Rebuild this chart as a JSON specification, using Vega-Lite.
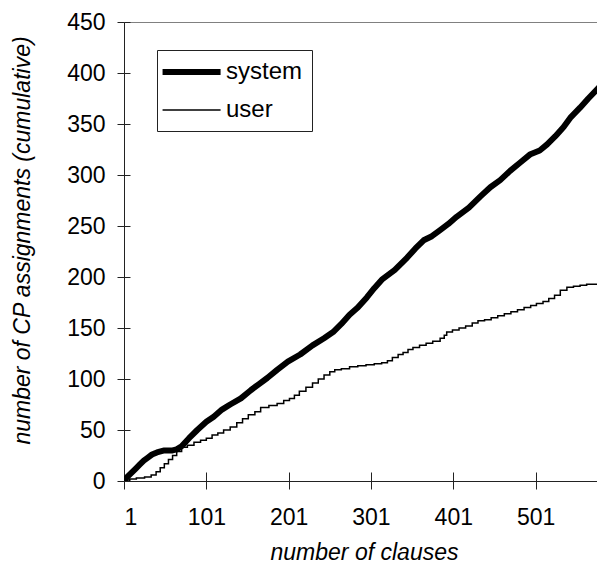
{
  "$schema": "https://vega.github.io/schema/vega-lite/v6.json",
  "width": 475,
  "height": 459,
  "autosize": "none",
  "padding": {"left": 124, "top": 22, "right": 0, "bottom": 84},
  "background": "white",
  "config": {
    "font": "Liberation Sans",
    "view": {"stroke": "#808080", "strokeWidth": 1},
    "axis": {
      "domainColor": "#222",
      "tickColor": "#222",
      "labelColor": "#000",
      "titleColor": "#000",
      "labelFont": "Liberation Sans",
      "titleFont": "Liberation Sans",
      "labelFontSize": 23,
      "titleFontSize": 23,
      "titleFontWeight": "normal",
      "titleFontStyle": "italic",
      "grid": false
    }
  },
  "datasets": {
    "curves": [
      {"clause": 1, "count": 0, "series": "system"},
      {"clause": 5, "count": 4, "series": "system"},
      {"clause": 10, "count": 8, "series": "system"},
      {"clause": 15, "count": 12, "series": "system"},
      {"clause": 20, "count": 16, "series": "system"},
      {"clause": 25, "count": 20, "series": "system"},
      {"clause": 30, "count": 23, "series": "system"},
      {"clause": 35, "count": 26, "series": "system"},
      {"clause": 41, "count": 28, "series": "system"},
      {"clause": 50, "count": 30, "series": "system"},
      {"clause": 60, "count": 30, "series": "system"},
      {"clause": 65, "count": 31, "series": "system"},
      {"clause": 71, "count": 34, "series": "system"},
      {"clause": 80, "count": 42, "series": "system"},
      {"clause": 90, "count": 50, "series": "system"},
      {"clause": 101, "count": 58, "series": "system"},
      {"clause": 110, "count": 63, "series": "system"},
      {"clause": 120, "count": 70, "series": "system"},
      {"clause": 130, "count": 75, "series": "system"},
      {"clause": 143, "count": 81, "series": "system"},
      {"clause": 155, "count": 89, "series": "system"},
      {"clause": 165, "count": 95, "series": "system"},
      {"clause": 175, "count": 101, "series": "system"},
      {"clause": 187, "count": 109, "series": "system"},
      {"clause": 200, "count": 117, "series": "system"},
      {"clause": 215, "count": 124, "series": "system"},
      {"clause": 230, "count": 133, "series": "system"},
      {"clause": 244, "count": 140, "series": "system"},
      {"clause": 255, "count": 146, "series": "system"},
      {"clause": 265, "count": 154, "series": "system"},
      {"clause": 275, "count": 163, "series": "system"},
      {"clause": 285, "count": 170, "series": "system"},
      {"clause": 296, "count": 180, "series": "system"},
      {"clause": 305, "count": 189, "series": "system"},
      {"clause": 315, "count": 198, "series": "system"},
      {"clause": 330, "count": 207, "series": "system"},
      {"clause": 345, "count": 219, "series": "system"},
      {"clause": 355, "count": 228, "series": "system"},
      {"clause": 365, "count": 236, "series": "system"},
      {"clause": 375, "count": 240, "series": "system"},
      {"clause": 385, "count": 246, "series": "system"},
      {"clause": 395, "count": 252, "series": "system"},
      {"clause": 405, "count": 259, "series": "system"},
      {"clause": 420, "count": 268, "series": "system"},
      {"clause": 434, "count": 279, "series": "system"},
      {"clause": 446, "count": 288, "series": "system"},
      {"clause": 458, "count": 295, "series": "system"},
      {"clause": 470, "count": 304, "series": "system"},
      {"clause": 482, "count": 312, "series": "system"},
      {"clause": 494, "count": 320, "series": "system"},
      {"clause": 506, "count": 324, "series": "system"},
      {"clause": 515, "count": 330, "series": "system"},
      {"clause": 525, "count": 338, "series": "system"},
      {"clause": 535, "count": 347, "series": "system"},
      {"clause": 543, "count": 356, "series": "system"},
      {"clause": 555, "count": 366, "series": "system"},
      {"clause": 565, "count": 375, "series": "system"},
      {"clause": 578, "count": 386, "series": "system"},
      {"clause": 1, "count": 0, "series": "user"},
      {"clause": 8, "count": 2, "series": "user"},
      {"clause": 16, "count": 3, "series": "user"},
      {"clause": 26, "count": 4, "series": "user"},
      {"clause": 34, "count": 6, "series": "user"},
      {"clause": 40, "count": 9, "series": "user"},
      {"clause": 45, "count": 13, "series": "user"},
      {"clause": 50, "count": 17, "series": "user"},
      {"clause": 55, "count": 21, "series": "user"},
      {"clause": 60, "count": 25, "series": "user"},
      {"clause": 65, "count": 29, "series": "user"},
      {"clause": 71, "count": 33, "series": "user"},
      {"clause": 78, "count": 35, "series": "user"},
      {"clause": 86, "count": 38, "series": "user"},
      {"clause": 94, "count": 40, "series": "user"},
      {"clause": 101, "count": 42, "series": "user"},
      {"clause": 108, "count": 45, "series": "user"},
      {"clause": 115, "count": 47, "series": "user"},
      {"clause": 122, "count": 50, "series": "user"},
      {"clause": 130, "count": 53, "series": "user"},
      {"clause": 138, "count": 57, "series": "user"},
      {"clause": 145, "count": 61, "series": "user"},
      {"clause": 152, "count": 65, "series": "user"},
      {"clause": 160, "count": 68, "series": "user"},
      {"clause": 167, "count": 72, "series": "user"},
      {"clause": 177, "count": 74, "series": "user"},
      {"clause": 187, "count": 76, "series": "user"},
      {"clause": 195, "count": 79, "series": "user"},
      {"clause": 202, "count": 81, "series": "user"},
      {"clause": 208, "count": 84, "series": "user"},
      {"clause": 214, "count": 88, "series": "user"},
      {"clause": 222, "count": 92, "series": "user"},
      {"clause": 230, "count": 96, "series": "user"},
      {"clause": 237, "count": 100, "series": "user"},
      {"clause": 244, "count": 104, "series": "user"},
      {"clause": 251, "count": 107, "series": "user"},
      {"clause": 257, "count": 109, "series": "user"},
      {"clause": 265, "count": 110, "series": "user"},
      {"clause": 275, "count": 112, "series": "user"},
      {"clause": 285, "count": 113, "series": "user"},
      {"clause": 295, "count": 114, "series": "user"},
      {"clause": 305, "count": 115, "series": "user"},
      {"clause": 314, "count": 116, "series": "user"},
      {"clause": 321, "count": 118, "series": "user"},
      {"clause": 327, "count": 121, "series": "user"},
      {"clause": 334, "count": 124, "series": "user"},
      {"clause": 340, "count": 126, "series": "user"},
      {"clause": 346, "count": 129, "series": "user"},
      {"clause": 352, "count": 131, "series": "user"},
      {"clause": 360, "count": 133, "series": "user"},
      {"clause": 368, "count": 135, "series": "user"},
      {"clause": 376, "count": 137, "series": "user"},
      {"clause": 385, "count": 140, "series": "user"},
      {"clause": 390, "count": 143, "series": "user"},
      {"clause": 393, "count": 146, "series": "user"},
      {"clause": 400, "count": 148, "series": "user"},
      {"clause": 408, "count": 150, "series": "user"},
      {"clause": 416, "count": 152, "series": "user"},
      {"clause": 424, "count": 155, "series": "user"},
      {"clause": 431, "count": 157, "series": "user"},
      {"clause": 439, "count": 158, "series": "user"},
      {"clause": 447, "count": 160, "series": "user"},
      {"clause": 455, "count": 162, "series": "user"},
      {"clause": 463, "count": 164, "series": "user"},
      {"clause": 471, "count": 166, "series": "user"},
      {"clause": 479, "count": 168, "series": "user"},
      {"clause": 487, "count": 170, "series": "user"},
      {"clause": 495, "count": 172, "series": "user"},
      {"clause": 502, "count": 174, "series": "user"},
      {"clause": 510, "count": 176, "series": "user"},
      {"clause": 517, "count": 179, "series": "user"},
      {"clause": 524, "count": 182, "series": "user"},
      {"clause": 531, "count": 187, "series": "user"},
      {"clause": 539, "count": 190, "series": "user"},
      {"clause": 547, "count": 191, "series": "user"},
      {"clause": 555, "count": 192, "series": "user"},
      {"clause": 563, "count": 193, "series": "user"},
      {"clause": 578, "count": 194, "series": "user"}
    ]
  },
  "data": {"name": "curves"},
  "layer": [
    {
      "transform": [{"filter": "datum.series === 'system'"}],
      "mark": {"type": "line", "interpolate": "linear", "color": "#000", "clip": true, "strokeJoin": "round", "strokeCap": "round"},
      "encoding": {
        "x": {
          "field": "clause", "type": "quantitative",
          "scale": {"domain": [1, 578], "nice": false, "zero": false},
          "axis": {
            "values": [1, 101, 201, 301, 401, 501],
            "tickSize": 8,
            "labelPadding": 17,
            "title": "number of clauses",
            "titleX": 240,
            "titleY": 78,
            "titleBaseline": "alphabetic",
            "titleAlign": "center"
          }
        },
        "y": {
          "field": "count", "type": "quantitative",
          "scale": {"domain": [0, 450], "nice": false},
          "axis": {
            "values": [0, 50, 100, 150, 200, 250, 300, 350, 400, 450],
            "tickSize": 7,
            "labelPadding": 12,
            "title": "number of CP assignments (cumulative)",
            "titleX": -95,
            "titleY": 218,
            "titleAngle": 270,
            "titleBaseline": "alphabetic",
            "titleAlign": "center"
          }
        },
        "strokeWidth": {
          "field": "series", "type": "ordinal",
          "scale": {"domain": ["system", "user"], "range": [6, 1.5]},
          "legend": {
            "title": null,
            "orient": "none",
            "legendX": 33,
            "legendY": 28,
            "symbolType": "M-1.7,0H4.3",
            "symbolSize": 374,
            "symbolStrokeColor": "#000",
            "symbolFillColor": "transparent",
            "labelOffset": 34,
            "labelFont": "Liberation Sans",
            "labelFontSize": 24,
            "labelColor": "#000",
            "rowPadding": 14,
            "padding": 9,
            "strokeColor": "#222",
            "fillColor": "white"
          }
        }
      }
    },
    {
      "transform": [{"filter": "datum.series === 'user'"}],
      "mark": {"type": "line", "interpolate": "step-after", "color": "#000", "clip": true},
      "encoding": {
        "x": {
          "field": "clause", "type": "quantitative",
          "axis": {
            "orient": "bottom",
            "offset": -9,
            "values": [1, 101, 201, 301, 401, 501],
            "tickSize": 9,
            "labels": false,
            "domain": false,
            "title": null
          }
        },
        "y": {
          "field": "count", "type": "quantitative",
          "axis": {
            "orient": "left",
            "offset": -6,
            "values": [0, 50, 100, 150, 200, 250, 300, 350, 400, 450],
            "tickSize": 6,
            "labels": false,
            "domain": false,
            "title": null
          }
        },
        "strokeWidth": {"field": "series", "type": "ordinal"}
      }
    }
  ],
  "resolve": {"axis": {"x": "independent", "y": "independent"}}
}
